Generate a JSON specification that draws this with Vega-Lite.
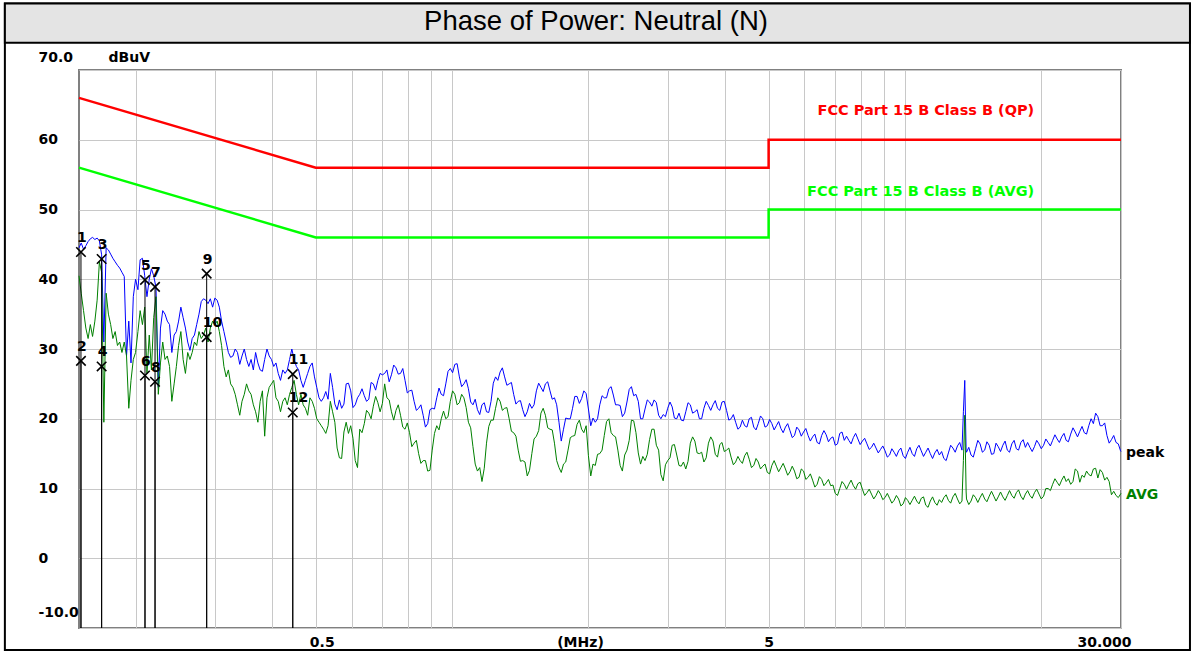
{
  "$schema": "https://vega.github.io/schema/vega-lite/v6.json",
  "width": 1042,
  "height": 558,
  "autosize": {"type": "none"},
  "padding": {"left": 79, "top": 70, "right": 71, "bottom": 24},
  "background": "white",
  "config": {"view": {"stroke": "#808080", "strokeWidth": 2}, "font": "DejaVu Sans"},
  "datasets": {
    "limits": [
      {"lim": "QP", "f": 0.15, "v": 66, "i": 0}, {"lim": "QP", "f": 0.5, "v": 56, "i": 1}, {"lim": "QP", "f": 5, "v": 56, "i": 2}, {"lim": "QP", "f": 5, "v": 60, "i": 3}, {"lim": "QP", "f": 30, "v": 60, "i": 4},
      {"lim": "AVG", "f": 0.15, "v": 56, "i": 0}, {"lim": "AVG", "f": 0.5, "v": 46, "i": 1}, {"lim": "AVG", "f": 5, "v": 46, "i": 2}, {"lim": "AVG", "f": 5, "v": 50, "i": 3}, {"lim": "AVG", "f": 30, "v": 50, "i": 4}
    ],
    "markers": [
      {"n": "1", "f": 0.1515, "v": 43.9}, {"n": "2", "f": 0.1515, "v": 28.3},
      {"n": "3", "f": 0.1683, "v": 42.9}, {"n": "4", "f": 0.1683, "v": 27.5},
      {"n": "5", "f": 0.2098, "v": 39.9}, {"n": "6", "f": 0.2098, "v": 26.2},
      {"n": "7", "f": 0.2208, "v": 38.9}, {"n": "8", "f": 0.2208, "v": 25.3},
      {"n": "9", "f": 0.2871, "v": 40.8}, {"n": "10", "f": 0.2871, "v": 31.7},
      {"n": "11", "f": 0.4448, "v": 26.4}, {"n": "12", "f": 0.4448, "v": 20.9}
    ],
    "trace": [
      {"f":0.15,"pk":44.5,"av":40.5},{"f":0.1517,"pk":45.2,"av":38.0},{"f":0.1535,"pk":44.3,"av":35.5},{"f":0.1553,"pk":44.8,"av":33.0},
      {"f":0.1571,"pk":45.4,"av":31.5},{"f":0.1589,"pk":45.8,"av":33.5},{"f":0.1607,"pk":46.0,"av":31.8},{"f":0.1626,"pk":45.7,"av":34.0},
      {"f":0.1645,"pk":45.9,"av":37.0},{"f":0.1664,"pk":45.5,"av":42.5},{"f":0.1683,"pk":43.5,"av":41.0},{"f":0.1702,"pk":31.0,"av":19.5},
      {"f":0.1722,"pk":44.5,"av":38.0},{"f":0.1742,"pk":44.2,"av":35.0},{"f":0.1762,"pk":43.6,"av":33.5},{"f":0.1782,"pk":43.0,"av":31.5},
      {"f":0.1803,"pk":42.5,"av":32.5},{"f":0.1824,"pk":42.0,"av":30.5},{"f":0.1845,"pk":41.6,"av":31.0},{"f":0.1866,"pk":41.0,"av":29.5},
      {"f":0.1888,"pk":40.4,"av":31.0},{"f":0.1910,"pk":29.0,"av":29.0},{"f":0.1932,"pk":34.0,"av":21.5},{"f":0.1954,"pk":28.0,"av":25.5},
      {"f":0.1977,"pk":37.5,"av":28.5},{"f":0.2000,"pk":40.0,"av":29.5},{"f":0.2024,"pk":38.5,"av":32.5},{"f":0.2047,"pk":42.8,"av":35.5},
      {"f":0.2071,"pk":43.0,"av":33.5},{"f":0.2095,"pk":40.5,"av":36.0},{"f":0.2119,"pk":37.5,"av":26.5},{"f":0.2144,"pk":40.0,"av":32.0},
      {"f":0.2168,"pk":41.5,"av":27.0},{"f":0.2193,"pk":40.5,"av":34.5},{"f":0.2219,"pk":38.8,"av":37.5},{"f":0.2245,"pk":24.5,"av":23.5},
      {"f":0.2270,"pk":33.0,"av":28.0},{"f":0.2296,"pk":35.5,"av":31.0},{"f":0.2323,"pk":35.0,"av":28.5},{"f":0.2350,"pk":34.0,"av":29.0},
      {"f":0.2377,"pk":33.5,"av":27.5},{"f":0.2405,"pk":29.5,"av":22.5},{"f":0.2433,"pk":32.0,"av":25.0},{"f":0.2461,"pk":32.5,"av":27.5},
      {"f":0.2489,"pk":34.0,"av":30.5},{"f":0.2518,"pk":36.0,"av":32.5},{"f":0.2547,"pk":34.5,"av":28.5},{"f":0.2577,"pk":33.0,"av":26.5},
      {"f":0.2607,"pk":31.0,"av":29.5},{"f":0.2637,"pk":29.8,"av":28.5},{"f":0.2667,"pk":31.5,"av":29.5},{"f":0.2698,"pk":32.0,"av":31.0},
      {"f":0.2729,"pk":33.5,"av":30.5},{"f":0.2761,"pk":35.0,"av":32.5},{"f":0.2793,"pk":36.8,"av":31.5},{"f":0.2825,"pk":37.2,"av":32.0},
      {"f":0.2858,"pk":37.0,"av":33.0},{"f":0.2891,"pk":36.5,"av":31.0},{"f":0.2925,"pk":37.2,"av":33.0},{"f":0.2959,"pk":36.0,"av":34.0},
      {"f":0.2993,"pk":37.3,"av":33.5},{"f":0.3028,"pk":37.0,"av":34.0},{"f":0.3062,"pk":36.0,"av":32.5},{"f":0.3097,"pk":34.0,"av":30.5},
      {"f":0.3134,"pk":32.5,"av":27.5},{"f":0.3170,"pk":31.0,"av":26.0},{"f":0.3206,"pk":29.5,"av":27.0},{"f":0.3243,"pk":28.8,"av":25.0},
      {"f":0.3281,"pk":29.0,"av":24.5},{"f":0.3319,"pk":30.0,"av":23.5},{"f":0.3358,"pk":29.5,"av":22.0},{"f":0.3397,"pk":27.8,"av":20.5},
      {"f":0.3436,"pk":29.0,"av":22.5},{"f":0.3476,"pk":30.0,"av":23.5},{"f":0.3516,"pk":28.5,"av":25.0},{"f":0.3557,"pk":27.5,"av":24.0},
      {"f":0.3598,"pk":28.5,"av":23.5},{"f":0.3640,"pk":27.0,"av":22.0},{"f":0.3682,"pk":29.5,"av":21.0},{"f":0.3725,"pk":28.0,"av":19.5},
      {"f":0.3768,"pk":27.0,"av":22.5},{"f":0.3812,"pk":26.8,"av":24.0},{"f":0.3856,"pk":28.5,"av":17.5},{"f":0.3901,"pk":30.0,"av":23.0},
      {"f":0.3945,"pk":29.0,"av":24.5},{"f":0.3991,"pk":28.5,"av":25.0},{"f":0.4037,"pk":27.5,"av":25.5},{"f":0.4084,"pk":28.0,"av":23.0},
      {"f":0.4131,"pk":26.5,"av":22.5},{"f":0.4179,"pk":25.5,"av":21.0},{"f":0.4228,"pk":27.0,"av":22.5},{"f":0.4277,"pk":26.5,"av":23.0},
      {"f":0.4326,"pk":27.0,"av":22.0},{"f":0.4376,"pk":28.5,"av":23.5},{"f":0.4427,"pk":30.0,"av":24.5},{"f":0.4478,"pk":28.5,"av":25.5},
      {"f":0.4530,"pk":27.5,"av":23.5},{"f":0.4582,"pk":27.0,"av":22.0},{"f":0.4636,"pk":25.5,"av":23.5},{"f":0.4690,"pk":24.5,"av":22.0},
      {"f":0.4743,"pk":25.5,"av":21.5},{"f":0.4798,"pk":26.5,"av":20.5},{"f":0.4854,"pk":27.5,"av":23.0},{"f":0.4910,"pk":28.0,"av":22.5},
      {"f":0.4967,"pk":26.0,"av":21.5},{"f":0.5025,"pk":24.5,"av":20.0},{"f":0.5083,"pk":23.0,"av":19.5},{"f":0.5142,"pk":22.5,"av":19.0},
      {"f":0.5201,"pk":23.0,"av":18.5},{"f":0.5322,"pk":22.8,"av":19.0},{"f":0.5384,"pk":26.5,"av":22.5},{"f":0.5446,"pk":24.5,"av":21.0},
      {"f":0.5573,"pk":21.3,"av":15.8},{"f":0.5703,"pk":21.5,"av":14.3},{"f":0.5836,"pk":25.0,"av":19.5},{"f":0.5972,"pk":24.0,"av":19.0},
      {"f":0.6111,"pk":22.0,"av":14.0},{"f":0.6182,"pk":23.0,"av":13.0},{"f":0.6253,"pk":23.5,"av":18.5},{"f":0.6399,"pk":23.3,"av":19.3},
      {"f":0.6548,"pk":22.8,"av":20.8},{"f":0.6700,"pk":25.0,"av":21.8},{"f":0.6856,"pk":25.5,"av":22.3},{"f":0.7016,"pk":26.3,"av":22.2},
      {"f":0.7097,"pk":26.5,"av":25.0},{"f":0.7179,"pk":27.0,"av":23.0},{"f":0.7346,"pk":26.3,"av":21.0},{"f":0.7518,"pk":27.3,"av":21.2},
      {"f":0.7693,"pk":26.5,"av":20.5},{"f":0.7872,"pk":25.5,"av":18.5},{"f":0.8055,"pk":24.0,"av":18.0},{"f":0.8243,"pk":22.5,"av":16.5},
      {"f":0.8435,"pk":21.5,"av":15.0},{"f":0.8632,"pk":20.5,"av":14.0},{"f":0.8833,"pk":19.3,"av":12.5},{"f":0.9038,"pk":21.5,"av":15.5},
      {"f":0.9249,"pk":23.0,"av":19.0},{"f":0.9464,"pk":23.5,"av":20.0},{"f":0.9684,"pk":25.0,"av":20.0},{"f":0.9910,"pk":27.2,"av":22.5},
      {"f":1.0141,"pk":27.8,"av":23.5},{"f":1.0377,"pk":26.0,"av":22.3},{"f":1.0618,"pk":25.0,"av":23.0},{"f":1.0865,"pk":24.3,"av":19.5},
      {"f":1.1118,"pk":22.0,"av":16.0},{"f":1.1376,"pk":21.3,"av":12.5},{"f":1.1641,"pk":22.0,"av":11.0},{"f":1.1912,"pk":21.0,"av":16.5},
      {"f":1.2190,"pk":22.5,"av":19.8},{"f":1.2473,"pk":26.0,"av":21.5},{"f":1.2764,"pk":26.7,"av":22.5},{"f":1.3061,"pk":26.0,"av":21.5},
      {"f":1.3365,"pk":25.0,"av":20.0},{"f":1.3676,"pk":23.5,"av":18.0},{"f":1.3994,"pk":22.5,"av":15.5},{"f":1.4320,"pk":21.3,"av":14.0},
      {"f":1.4653,"pk":21.0,"av":11.8},{"f":1.5,"pk":21.5,"av":15.0},{"f":1.535,"pk":24.0,"av":17.5},{"f":1.571,"pk":24.5,"av":20.8},
      {"f":1.607,"pk":25.0,"av":20.5},{"f":1.645,"pk":24.0,"av":18.5},{"f":1.683,"pk":23.0,"av":16.5},{"f":1.722,"pk":19.5,"av":13.0},
      {"f":1.742,"pk":16.8,"av":12.3},{"f":1.762,"pk":18.5,"av":13.5},{"f":1.803,"pk":20.0,"av":15.5},{"f":1.845,"pk":21.5,"av":17.5},
      {"f":1.888,"pk":23.2,"av":19.2},{"f":1.932,"pk":22.9,"av":18.5},{"f":1.977,"pk":23.6,"av":19.0},{"f":2.000,"pk":21.4,"av":14.7},
      {"f":2.024,"pk":19.0,"av":11.8},{"f":2.071,"pk":19.5,"av":13.3},{"f":2.119,"pk":22.0,"av":15.0},{"f":2.168,"pk":23.0,"av":17.6},
      {"f":2.219,"pk":24.3,"av":20.0},{"f":2.270,"pk":23.4,"av":17.6},{"f":2.323,"pk":22.0,"av":15.5},{"f":2.377,"pk":20.3,"av":12.5},
      {"f":2.433,"pk":22.4,"av":15.5},{"f":2.489,"pk":24.6,"av":19.8},{"f":2.547,"pk":23.5,"av":18.0},{"f":2.607,"pk":20.0,"av":13.5},
      {"f":2.667,"pk":21.4,"av":14.0},{"f":2.729,"pk":22.4,"av":17.0},{"f":2.793,"pk":22.7,"av":18.5},{"f":2.858,"pk":20.5,"av":15.5},
      {"f":2.891,"pk":20.0,"av":12.0},{"f":2.925,"pk":20.6,"av":11.1},{"f":2.993,"pk":21.5,"av":14.0},{"f":3.062,"pk":21.7,"av":16.2},
      {"f":3.134,"pk":20.0,"av":14.8},{"f":3.206,"pk":19.8,"av":13.2},{"f":3.281,"pk":21.0,"av":12.8},{"f":3.358,"pk":22.0,"av":16.5},
      {"f":3.436,"pk":21.0,"av":16.8},{"f":3.516,"pk":20.0,"av":15.0},{"f":3.598,"pk":21.5,"av":13.8},{"f":3.682,"pk":21.9,"av":16.5},
      {"f":3.768,"pk":22.0,"av":16.8},{"f":3.856,"pk":21.5,"av":14.5},{"f":3.945,"pk":22.4,"av":16.6},{"f":4.037,"pk":21.2,"av":15.5},
      {"f":4.131,"pk":20.0,"av":14.5},{"f":4.228,"pk":19.5,"av":13.8},{"f":4.326,"pk":18.8,"av":14.0},{"f":4.427,"pk":19.0,"av":14.7},
      {"f":4.530,"pk":20.0,"av":14.2},{"f":4.636,"pk":18.8,"av":13.3},{"f":4.743,"pk":19.3,"av":13.8},{"f":4.854,"pk":20.0,"av":13.2},
      {"f":4.967,"pk":19.0,"av":12.3},{"f":5.083,"pk":19.3,"av":13.3},{"f":5.201,"pk":19.0,"av":13.2},{"f":5.322,"pk":18.6,"av":13.0},
      {"f":5.446,"pk":18.8,"av":12.8},{"f":5.573,"pk":18.3,"av":12.4},{"f":5.703,"pk":17.6,"av":12.5},{"f":5.836,"pk":18.4,"av":11.6},
      {"f":5.972,"pk":18.1,"av":12.5},{"f":6.111,"pk":17.6,"av":11.6},{"f":6.253,"pk":17.4,"av":11.2},{"f":6.399,"pk":16.6,"av":10.6},
      {"f":6.548,"pk":17.6,"av":11.3},{"f":6.700,"pk":17.7,"av":10.8},{"f":6.856,"pk":17.2,"av":10.4},{"f":7.016,"pk":16.2,"av":9.3},
      {"f":7.179,"pk":17.9,"av":10.0},{"f":7.346,"pk":16.9,"av":10.6},{"f":7.518,"pk":16.9,"av":10.6},{"f":7.693,"pk":17.3,"av":10.4},
      {"f":7.872,"pk":17.1,"av":10.7},{"f":8.055,"pk":16.8,"av":9.9},{"f":8.243,"pk":16.4,"av":9.4},{"f":8.435,"pk":15.9,"av":9.2},
      {"f":8.632,"pk":15.8,"av":9.0},{"f":8.833,"pk":15.6,"av":9.2},{"f":9.038,"pk":15.4,"av":8.7},{"f":9.249,"pk":14.8,"av":8.6},
      {"f":9.464,"pk":15.2,"av":8.3},{"f":9.684,"pk":15.4,"av":8.5},{"f":9.910,"pk":14.7,"av":7.8},{"f":10.141,"pk":15.2,"av":8.3},
      {"f":10.377,"pk":15.0,"av":8.3},{"f":10.618,"pk":15.7,"av":8.2},{"f":10.865,"pk":15.4,"av":8.6},{"f":11.118,"pk":15.2,"av":7.6},
      {"f":11.376,"pk":15.0,"av":8.2},{"f":11.641,"pk":15.1,"av":8.0},{"f":11.912,"pk":14.8,"av":8.4},{"f":12.190,"pk":14.3,"av":8.7},
      {"f":12.473,"pk":15.1,"av":8.3},{"f":12.764,"pk":15.8,"av":8.8},{"f":13.061,"pk":16.1,"av":8.5},{"f":13.365,"pk":15.5,"av":8.2},
      {"f":13.462,"pk":21.0,"av":14.0},{"f":13.555,"pk":25.5,"av":20.5},{"f":13.650,"pk":15.5,"av":9.5},{"f":13.676,"pk":15.2,"av":8.5},
      {"f":13.994,"pk":14.8,"av":8.2},{"f":14.320,"pk":15.7,"av":8.7},{"f":14.653,"pk":16.4,"av":8.7},{"f":15.0,"pk":15.5,"av":8.5},
      {"f":15.35,"pk":16.2,"av":8.9},{"f":15.71,"pk":15.0,"av":8.9},{"f":16.07,"pk":16.0,"av":8.8},{"f":16.45,"pk":16.2,"av":8.8},
      {"f":16.83,"pk":15.5,"av":9.0},{"f":17.22,"pk":16.4,"av":9.0},{"f":17.62,"pk":15.7,"av":9.4},{"f":18.03,"pk":16.6,"av":8.9},
      {"f":18.45,"pk":15.9,"av":9.2},{"f":18.88,"pk":15.9,"av":9.0},{"f":19.32,"pk":16.0,"av":9.4},{"f":19.77,"pk":16.4,"av":9.2},
      {"f":20.24,"pk":16.2,"av":8.9},{"f":20.71,"pk":16.6,"av":10.0},{"f":21.19,"pk":16.9,"av":10.6},{"f":21.68,"pk":17.1,"av":10.9},
      {"f":22.19,"pk":17.4,"av":11.2},{"f":22.70,"pk":16.9,"av":11.0},{"f":23.23,"pk":17.8,"av":10.6},{"f":23.77,"pk":18.1,"av":12.8},
      {"f":24.33,"pk":18.2,"av":10.9},{"f":24.89,"pk":18.0,"av":11.6},{"f":25.47,"pk":19.0,"av":12.0},{"f":26.07,"pk":19.3,"av":12.8},
      {"f":26.67,"pk":20.3,"av":11.5},{"f":27.29,"pk":19.0,"av":12.3},{"f":27.93,"pk":17.6,"av":11.6},{"f":28.58,"pk":17.0,"av":9.1},
      {"f":29.25,"pk":16.6,"av":9.0},{"f":29.93,"pk":15.4,"av":9.2},{"f":30.0,"pk":15.3,"av":9.3},
      {"f":0.5261,"pk":23.9,"av":17.9},{"f":0.5509,"pk":22.1,"av":19.5},{"f":0.5638,"pk":22.7,"av":14.4},{"f":0.5769,"pk":22.1,"av":18.1},
      {"f":0.5904,"pk":25.1,"av":17.9},{"f":0.6041,"pk":21.6,"av":17.2},{"f":0.6325,"pk":24.3,"av":18.0},{"f":0.6473,"pk":22.5,"av":21.2},
      {"f":0.6624,"pk":25.2,"av":20.0},{"f":0.6778,"pk":24.1,"av":23.2},{"f":0.6935,"pk":26.5,"av":21.0},{"f":0.7262,"pk":25.3,"av":22.7},
      {"f":0.7431,"pk":27.7,"av":19.8},{"f":0.7605,"pk":26.4,"av":22.0},{"f":0.7782,"pk":27.2,"av":18.8},{"f":0.7963,"pk":23.7,"av":19.4},
      {"f":0.8148,"pk":24.1,"av":16.0},{"f":0.8338,"pk":21.2,"av":16.9},{"f":0.8533,"pk":22.0,"av":13.6},{"f":0.8732,"pk":18.8,"av":14.0},
      {"f":0.8935,"pk":21.3,"av":12.6},{"f":0.9143,"pk":21.4,"av":17.9},{"f":0.9356,"pk":24.4,"av":18.4},{"f":0.9574,"pk":23.3,"av":21.1},
      {"f":0.9796,"pk":26.8,"av":20.3},{"f":1.0025,"pk":26.6,"av":24.0},{"f":1.0258,"pk":27.9,"av":22.0},{"f":1.0497,"pk":24.6,"av":23.5},
      {"f":1.0741,"pk":25.6,"av":21.6},{"f":1.0991,"pk":22.4,"av":18.7},{"f":1.1247,"pk":22.8,"av":13.5},{"f":1.1508,"pk":20.6,"av":13.0},
      {"f":1.1776,"pk":22.3,"av":12.9},{"f":1.2050,"pk":20.9,"av":18.9},{"f":1.2331,"pk":25.1,"av":19.8},{"f":1.2617,"pk":25.5,"av":23.0},
      {"f":1.2912,"pk":27.3,"av":21.2},{"f":1.3212,"pk":24.8,"av":21.6},{"f":1.3520,"pk":25.2,"av":18.2},{"f":1.3834,"pk":22.1,"av":17.5},
      {"f":1.4156,"pk":22.6,"av":13.9},{"f":1.4486,"pk":20.3,"av":13.8},{"f":1.4823,"pk":22.2,"av":12.6},{"f":1.517,"pk":22.0,"av":17.1},
      {"f":1.553,"pk":25.1,"av":18.3},{"f":1.589,"pk":23.9,"av":21.5},{"f":1.626,"pk":25.3,"av":18.7},{"f":1.664,"pk":22.8,"av":18.4},
      {"f":1.702,"pk":22.0,"av":14.0},{"f":1.782,"pk":20.1,"av":13.8},{"f":1.824,"pk":20.0,"av":17.3},{"f":1.866,"pk":23.2,"av":17.6},
      {"f":1.910,"pk":22.2,"av":19.8},{"f":1.954,"pk":24.0,"av":18.0},{"f":2.047,"pk":20.1,"av":13.5},{"f":2.095,"pk":20.0,"av":14.9},
      {"f":2.144,"pk":23.3,"av":15.5},{"f":2.193,"pk":23.0,"av":19.6},{"f":2.245,"pk":24.6,"av":18.0},{"f":2.296,"pk":22.0,"av":17.4},
      {"f":2.350,"pk":21.9,"av":13.3},{"f":2.405,"pk":20.8,"av":14.8},{"f":2.461,"pk":24.2,"av":16.9},{"f":2.518,"pk":23.3,"av":19.7},
      {"f":2.577,"pk":22.5,"av":15.1},{"f":2.637,"pk":20.0,"av":14.6},{"f":2.698,"pk":22.7,"av":14.9},{"f":2.761,"pk":21.8,"av":18.5},
      {"f":2.825,"pk":22.3,"av":16.2},{"f":2.959,"pk":20.3,"av":13.4},{"f":3.028,"pk":22.4,"av":14.4},{"f":3.097,"pk":20.1,"av":16.3},
      {"f":3.170,"pk":20.8,"av":13.3},{"f":3.243,"pk":19.7,"av":13.8},{"f":3.319,"pk":22.3,"av":13.9},{"f":3.397,"pk":20.8,"av":17.4},
      {"f":3.476,"pk":21.3,"av":15.1},{"f":3.557,"pk":20.0,"av":15.2},{"f":3.640,"pk":22.5,"av":14.4},{"f":3.725,"pk":21.2,"av":17.4},
      {"f":3.812,"pk":22.6,"av":14.9},{"f":3.901,"pk":21.2,"av":16.3},{"f":3.991,"pk":22.5,"av":15.3},{"f":4.084,"pk":19.8,"av":15.8},
      {"f":4.179,"pk":20.6,"av":13.4},{"f":4.277,"pk":18.5,"av":14.6},{"f":4.376,"pk":19.8,"av":13.6},{"f":4.478,"pk":18.8,"av":15.2},
      {"f":4.582,"pk":20.2,"av":13.0},{"f":4.690,"pk":18.4,"av":14.3},{"f":4.798,"pk":20.4,"av":12.8},{"f":4.910,"pk":18.8,"av":13.5},
      {"f":5.025,"pk":19.9,"av":12.1},{"f":5.142,"pk":18.4,"av":14.0},{"f":5.261,"pk":19.6,"av":12.4},{"f":5.384,"pk":18.0,"av":13.6},
      {"f":5.509,"pk":19.3,"av":11.9},{"f":5.638,"pk":17.3,"av":13.2},{"f":5.769,"pk":18.8,"av":11.4},{"f":5.904,"pk":17.5,"av":12.8},
      {"f":6.041,"pk":18.6,"av":11.3},{"f":6.182,"pk":16.8,"av":12.1},{"f":6.325,"pk":17.8,"av":10.2},{"f":6.473,"pk":16.4,"av":11.7},
      {"f":6.624,"pk":18.3,"av":10.4},{"f":6.778,"pk":16.7,"av":11.3},{"f":6.935,"pk":17.4,"av":10.5},{"f":7.097,"pk":16.4,"av":9.0},
      {"f":7.262,"pk":18.1,"av":11.0},{"f":7.431,"pk":17.5,"av":9.9},{"f":7.605,"pk":16.4,"av":11.2},{"f":7.782,"pk":17.9,"av":9.9},
      {"f":7.963,"pk":16.3,"av":10.9},{"f":8.148,"pk":17.2,"av":9.0},{"f":8.338,"pk":15.6,"av":9.9},{"f":8.533,"pk":16.5,"av":8.5},
      {"f":8.732,"pk":15.1,"av":9.7},{"f":8.935,"pk":16.1,"av":8.4},{"f":9.143,"pk":14.5,"av":9.3},{"f":9.356,"pk":15.7,"av":7.9},
      {"f":9.574,"pk":14.6,"av":9.0},{"f":9.796,"pk":15.8,"av":7.5},{"f":10.025,"pk":14.3,"av":8.7},{"f":10.258,"pk":15.9,"av":7.7},
      {"f":10.497,"pk":14.6,"av":8.9},{"f":10.741,"pk":16.2,"av":7.8},{"f":10.991,"pk":14.6,"av":8.8},{"f":11.247,"pk":15.8,"av":7.3},
      {"f":11.508,"pk":14.3,"av":8.8},{"f":11.776,"pk":15.6,"av":7.6},{"f":12.050,"pk":15.3,"av":8.0},{"f":12.331,"pk":14.0,"av":9.1},
      {"f":12.617,"pk":16.2,"av":7.9},{"f":12.912,"pk":15.2,"av":9.3},{"f":13.212,"pk":16.6,"av":7.8},{"f":13.834,"pk":15.9,"av":7.7},
      {"f":14.156,"pk":14.5,"av":9.1},{"f":14.486,"pk":16.9,"av":8.0},{"f":14.823,"pk":15.2,"av":9.3},{"f":15.17,"pk":16.7,"av":8.1},
      {"f":15.53,"pk":14.9,"av":9.6},{"f":15.89,"pk":16.5,"av":8.2},{"f":16.26,"pk":15.3,"av":9.5},{"f":16.64,"pk":16.8,"av":8.3},
      {"f":17.02,"pk":15.2,"av":9.7},{"f":17.42,"pk":16.9,"av":8.6},{"f":17.82,"pk":15.5,"av":9.8},{"f":18.24,"pk":17.0,"av":8.4},
      {"f":18.66,"pk":16.6,"av":9.7},{"f":19.10,"pk":15.3,"av":8.6},{"f":19.54,"pk":16.9,"av":9.9},{"f":20.00,"pk":15.7,"av":8.5},
      {"f":20.47,"pk":17.1,"av":10.0},{"f":20.95,"pk":16.1,"av":9.7},{"f":21.44,"pk":17.7,"av":11.4},{"f":21.93,"pk":16.6,"av":10.4},
      {"f":22.45,"pk":17.9,"av":11.8},{"f":22.96,"pk":16.7,"av":11.4},{"f":23.50,"pk":18.7,"av":11.0},{"f":24.05,"pk":17.4,"av":12.5},
      {"f":24.61,"pk":18.9,"av":11.9},{"f":25.18,"pk":17.8,"av":12.5},{"f":25.77,"pk":20.0,"av":11.8},{"f":26.37,"pk":20.8,"av":12.9},
      {"f":26.98,"pk":19.0,"av":12.7},{"f":27.61,"pk":19.4,"av":11.2},{"f":28.25,"pk":16.5,"av":11.0},{"f":28.91,"pk":17.6,"av":9.6},
      {"f":29.59,"pk":16.4,"av":8.7}
    ]
  },
  "layer": [
    {
      "data": {"values": [{}]},
      "mark": {"type": "rect", "fill": "transparent", "stroke": "#000000", "strokeWidth": 2},
      "encoding": {
        "x": {"datum": 0.1029, "type": "quantitative", "scale": {"type": "log", "domain": [0.15, 30], "nice": false},
          "axis": {
            "values": [0.2, 0.3, 0.4, 0.5, 0.6, 0.7, 0.8, 0.9, 1, 2, 3, 4, 5, 6, 7, 8, 9, 10, 20, 30],
            "grid": true, "gridColor": "#c8c8c8", "gridWidth": 1,
            "domain": false, "ticks": false, "tickSize": 0,
            "labelExpr": "datum.value == 0.5 ? '0.5' : datum.value == 5 ? '5' : datum.value == 30 ? '30.000' : ''",
            "labelFont": "DejaVu Sans", "labelFontWeight": "bold", "labelFontSize": 14, "labelColor": "#000000",
            "labelBaseline": "middle", "labelPadding": 14,
            "labelOffset": {"condition": [{"test": "datum.value == 30", "value": -17}, {"test": "datum.value == 0.5", "value": 6}], "value": 0},
            "labelOverlap": false, "labelFlush": false, "labelBound": false,
            "title": "(MHz)", "titleFont": "DejaVu Sans", "titleFontWeight": "bold", "titleFontSize": 14, "titleColor": "#000000",
            "titleX": 501, "titleY": 14, "titleBaseline": "middle", "titleAlign": "center"
          }},
        "x2": {"datum": 42.6},
        "y": {"datum": 79.53, "type": "quantitative", "scale": {"domain": [-10, 70], "nice": false, "zero": false},
          "axis": {
            "values": [-10, 0, 10, 20, 30, 40, 50, 60, 70],
            "grid": true, "gridColor": "#c8c8c8", "gridWidth": 1,
            "domain": false, "ticks": false, "tickSize": 0,
            "labelExpr": "datum.value == 70 ? '70.0' : datum.value == -10 ? '-10.0' : datum.label",
            "labelFont": "DejaVu Sans", "labelFontWeight": "bold", "labelFontSize": 14, "labelColor": "#000000",
            "labelAlign": "left", "labelBaseline": "middle", "labelPadding": 41,
            "labelOffset": {"condition": [{"test": "datum.value == 70", "value": -13}, {"test": "datum.value == -10", "value": -16}], "value": 0},
            "labelOverlap": false, "labelFlush": false, "labelBound": false,
            "title": "dBuV", "titleFont": "DejaVu Sans", "titleFontWeight": "bold", "titleFontSize": 14, "titleColor": "#000000",
            "titleAngle": 0, "titleAlign": "left", "titleBaseline": "middle", "titleX": 29, "titleY": -13
          }},
        "y2": {"datum": -13.15}
      }
    },
    {
      "data": {"values": [{}]},
      "mark": {"type": "rect", "fill": "#e4e4e4", "stroke": "#000000", "strokeWidth": 2},
      "encoding": {
        "x": {"datum": 0.1029, "type": "quantitative", "scale": {"type": "log", "domain": [0.15, 30], "nice": false}},
        "x2": {"datum": 42.6},
        "y": {"datum": 79.53, "type": "quantitative", "scale": {"domain": [-10, 70], "nice": false, "zero": false}},
        "y2": {"datum": 73.91}
      }
    },
    {
      "data": {"values": [{}]},
      "mark": {"type": "text", "text": "Phase of Power: Neutral (N)", "font": "Liberation Sans", "fontSize": 27.5, "align": "center", "baseline": "middle", "color": "#000000"},
      "encoding": {
        "x": {"datum": 2.079, "type": "quantitative", "scale": {"type": "log", "domain": [0.15, 30], "nice": false}},
        "y": {"datum": 76.88, "type": "quantitative", "scale": {"domain": [-10, 70], "nice": false, "zero": false}}
      }
    },
    {
      "data": {"name": "limits"},
      "mark": {"type": "line", "strokeWidth": 2.5},
      "encoding": {
        "x": {"field": "f", "type": "quantitative", "scale": {"type": "log", "domain": [0.15, 30], "nice": false}},
        "y": {"field": "v", "type": "quantitative", "scale": {"domain": [-10, 70], "nice": false, "zero": false}},
        "color": {"field": "lim", "type": "nominal", "scale": {"domain": ["QP", "AVG"], "range": ["#ff0000", "#00ff00"]}, "legend": null},
        "order": {"field": "i", "type": "quantitative"}
      }
    },
    {
      "data": {"name": "trace"},
      "mark": {"type": "line", "color": "#0000ff", "strokeWidth": 1},
      "encoding": {
        "x": {"field": "f", "type": "quantitative", "scale": {"type": "log", "domain": [0.15, 30], "nice": false}},
        "y": {"field": "pk", "type": "quantitative", "scale": {"domain": [-10, 70], "nice": false, "zero": false}}
      }
    },
    {
      "data": {"name": "trace"},
      "mark": {"type": "line", "color": "#008000", "strokeWidth": 1},
      "encoding": {
        "x": {"field": "f", "type": "quantitative", "scale": {"type": "log", "domain": [0.15, 30], "nice": false}},
        "y": {"field": "av", "type": "quantitative", "scale": {"domain": [-10, 70], "nice": false, "zero": false}}
      }
    },
    {
      "data": {"name": "markers"},
      "mark": {"type": "rule", "color": "#000000", "strokeWidth": 1},
      "encoding": {
        "x": {"field": "f", "type": "quantitative", "scale": {"type": "log", "domain": [0.15, 30], "nice": false}},
        "y": {"field": "v", "type": "quantitative", "scale": {"domain": [-10, 70], "nice": false, "zero": false}},
        "y2": {"datum": -10}
      }
    },
    {
      "data": {"name": "markers"},
      "mark": {"type": "point", "shape": "M-1,-1L1,1M-1,1L1,-1", "size": 90, "filled": false, "stroke": "#000000", "strokeWidth": 1.6, "opacity": 1},
      "encoding": {
        "x": {"field": "f", "type": "quantitative", "scale": {"type": "log", "domain": [0.15, 30], "nice": false}},
        "y": {"field": "v", "type": "quantitative", "scale": {"domain": [-10, 70], "nice": false, "zero": false}}
      }
    },
    {
      "data": {"name": "markers"},
      "mark": {"type": "text", "font": "DejaVu Sans", "fontWeight": "bold", "fontSize": 14, "align": "left", "baseline": "middle", "dx": -4, "dy": -14, "color": "#000000"},
      "encoding": {
        "x": {"field": "f", "type": "quantitative", "scale": {"type": "log", "domain": [0.15, 30], "nice": false}},
        "y": {"field": "v", "type": "quantitative", "scale": {"domain": [-10, 70], "nice": false, "zero": false}},
        "text": {"field": "n"}
      }
    },
    {
      "data": {"values": [
        {"f": 19.3, "v": 64.12, "t": "FCC Part 15 B Class B (QP)", "lim": "QP"},
        {"f": 19.3, "v": 52.51, "t": "FCC Part 15 B Class B (AVG)", "lim": "AVG"}
      ]},
      "mark": {"type": "text", "font": "DejaVu Sans", "fontWeight": "bold", "fontSize": 14.5, "align": "right", "baseline": "middle"},
      "encoding": {
        "x": {"field": "f", "type": "quantitative", "scale": {"type": "log", "domain": [0.15, 30], "nice": false}},
        "y": {"field": "v", "type": "quantitative", "scale": {"domain": [-10, 70], "nice": false, "zero": false}},
        "text": {"field": "t"},
        "color": {"field": "lim", "type": "nominal", "scale": {"domain": ["QP", "AVG"], "range": ["#ff0000", "#00ff00"]}, "legend": null}
      }
    },
    {
      "data": {"values": [{"f": 30, "v": 15.09, "t": "peak"}]},
      "mark": {"type": "text", "font": "DejaVu Sans", "fontWeight": "bold", "fontSize": 14, "align": "left", "baseline": "middle", "dx": 5, "color": "#000000"},
      "encoding": {
        "x": {"field": "f", "type": "quantitative", "scale": {"type": "log", "domain": [0.15, 30], "nice": false}},
        "y": {"field": "v", "type": "quantitative", "scale": {"domain": [-10, 70], "nice": false, "zero": false}},
        "text": {"field": "t"}
      }
    },
    {
      "data": {"values": [{"f": 30, "v": 9.11, "t": "AVG"}]},
      "mark": {"type": "text", "font": "DejaVu Sans", "fontWeight": "bold", "fontSize": 14, "align": "left", "baseline": "middle", "dx": 5, "color": "#008000"},
      "encoding": {
        "x": {"field": "f", "type": "quantitative", "scale": {"type": "log", "domain": [0.15, 30], "nice": false}},
        "y": {"field": "v", "type": "quantitative", "scale": {"domain": [-10, 70], "nice": false, "zero": false}},
        "text": {"field": "t"}
      }
    }
  ]
}
